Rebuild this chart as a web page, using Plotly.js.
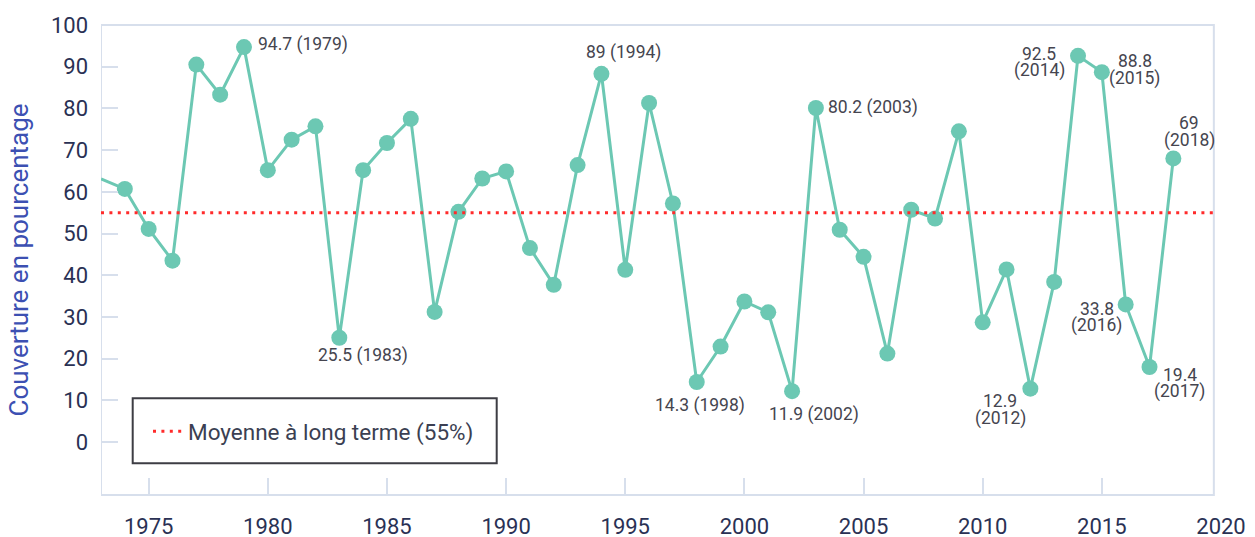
<!DOCTYPE html>
<html><head><meta charset="utf-8">
<script src="https://cdn.plot.ly/plotly-3.0.1.min.js"></script>
<style>html,body{margin:0;padding:0;background:#fff}</style>
</head><body><div id="chart" style="width:1255px;height:537px"></div>
<script>
// ---- data ----
const years = [1973,1974,1975,1976,1977,1978,1979,1980,1981,1982,1983,1984,1985,1986,1987,1988,1989,1990,1991,1992,1993,1994,1995,1996,1997,1998,1999,2000,2001,2002,2003,2004,2005,2006,2007,2008,2009,2010,2011,2012,2013,2014,2015,2016,2017,2018];
const coverage = [63.1,60.7,51.1,43.5,90.5,83.3,94.7,65.2,72.5,75.7,25.0,65.2,71.7,77.5,31.2,55.2,63.2,64.9,46.5,37.7,66.4,88.3,41.3,81.3,57.2,14.4,22.9,33.7,31.1,12.2,80.1,50.9,44.4,21.2,55.7,53.6,74.5,28.7,41.4,12.8,38.4,92.6,88.7,33.0,18.0,68.0];
const meanValue = 55;
const meanName = 'Moyenne à long terme (55%)';
const yTitle = 'Couverture en pourcentage';
const yTickValues = [0,10,20,30,40,50,60,70,80,90,100];
const xTickValues = [1975,1980,1985,1990,1995,2000,2005,2010,2015,2020];
const labelYears = [1979,1983,1994,1998,2002,2003,2012,2014,2015,2016,2017,2018];
const labelLines = [
  ['94.7 (1979)'], ['25.5 (1983)'], ['89 (1994)'], ['14.3 (1998)'], ['11.9 (2002)'], ['80.2 (2003)'],
  ['12.9','(2012)'], ['92.5','(2014)'], ['88.8','(2015)'], ['33.8','(2016)'], ['19.4','(2017)'], ['69','(2018)']
];

// ---- layout / style ----
const W = 1255, H = 537;
const M = {l:101, r:34, t:25, b:42};
const xRange = [1973, 2020];
const frameRight = 2019.7;
const yRange = [-12.7, 100];
const teal = '#6cc8b3';
const frameColor = '#d7dfec';
const tickFontColor = '#2a3154';
const labelColor = '#45454f';
const pw = W - M.l - M.r, ph = H - M.t - M.b;
const px2paperX = p => (p - M.l) / pw;
const px2paperY = p => (H - M.b - p) / ph;

const placement = {
  1979: {anchor:'left', dx:12, dy:3},
  1983: {anchor:'center', dx:24, dy:-18},
  1994: {anchor:'center', dx:22, dy:21},
  1998: {anchor:'center', dx:3, dy:-24},
  2002: {anchor:'center', dx:22, dy:-23},
  2003: {anchor:'left', dx:10, dy:0},
  2012: {anchor:'center', dx:-30, dy:-21},
  2014: {anchor:'center', dx:-39, dy:-6.5},
  2015: {anchor:'center', dx:33, dy:2.5},
  2016: {anchor:'center', dx:-29, dy:-13},
  2017: {anchor:'center', dx:30, dy:-16.5},
  2018: {anchor:'center', dx:16, dy:26.5}
};
const lineGap = 17;

const annotations = [];
labelYears.forEach((yr, i) => {
  const idx = years.indexOf(yr);
  const p = placement[yr];
  const lines = labelLines[i];
  lines.forEach((txt, j) => {
    const off = (lines.length - 1) / 2 - j;
    annotations.push({
      x: years[idx], y: coverage[idx], xref:'x', yref:'y',
      text: txt, showarrow:false,
      xanchor: p.anchor, yanchor:'middle',
      xshift: p.dx, yshift: p.dy + off * lineGap,
      font: {family:'Roboto, sans-serif', size:17.5, color:labelColor}
    });
  });
});

const traces = [
  {
    x: years, y: coverage, type:'scatter', mode:'lines+markers',
    line:{color:teal, width:3},
    marker:{color:teal, opacity:1, line:{width:0}, size: years.map(y => y === xRange[0] ? 0 : 16)},
    showlegend:false, hoverinfo:'x+y'
  },
  {
    x: [xRange[0], frameRight], y: [meanValue, meanValue], type:'scatter', mode:'lines',
    name: meanName,
    line:{color:'#ff2b2b', width:3, dash:'3px,5.4px'},
    showlegend:true
  }
];

const layout = {
  width: W, height: H,
  margin: {l:M.l, r:M.r, t:M.t, b:M.b, pad:0},
  paper_bgcolor:'#ffffff', plot_bgcolor:'#ffffff',
  font: {family:'Roboto, sans-serif', color: tickFontColor},
  xaxis: {
    range: xRange, tickvals: xTickValues, ticks:'inside', ticklen:17, tickwidth:2,
    tickcolor: frameColor, showgrid:false, zeroline:false, showline:false,
    tickfont:{size:22, color:tickFontColor}, ticklabelstandoff:16
  },
  yaxis: {
    range: yRange, tickvals: yTickValues, ticks:'inside', ticklen:17, tickwidth:2,
    tickcolor: frameColor, showgrid:false, zeroline:false, showline:false,
    tickfont:{size:22, color:tickFontColor}, ticklabelstandoff:12,
    title:{text: yTitle, font:{size:26, color:'#3c50b2'}, standoff:14}
  },
  showlegend:true,
  legend: {
    x: px2paperX(148), y: px2paperY(431.7), xanchor:'left', yanchor:'middle',
    bgcolor:'rgba(0,0,0,0)', borderwidth:0,
    font:{size:22.5, color:'#3b3f52'}
  },
  shapes: [
    {type:'rect', xref:'x', yref:'paper', x0:xRange[0], x1:frameRight, y0:0, y1:1,
     line:{color:frameColor, width:2}, layer:'below'},
    {type:'rect', xref:'paper', yref:'paper',
     x0:px2paperX(132.7), x1:px2paperX(496.7), y0:px2paperY(463.3), y1:px2paperY(398.3),
     line:{color:'#3d3d44', width:2}, fillcolor:'rgba(0,0,0,0)', layer:'above'}
  ],
  annotations: annotations
};

Plotly.newPlot('chart', traces, layout, {displayModeBar:false, staticPlot:true});
</script>
</body></html>
